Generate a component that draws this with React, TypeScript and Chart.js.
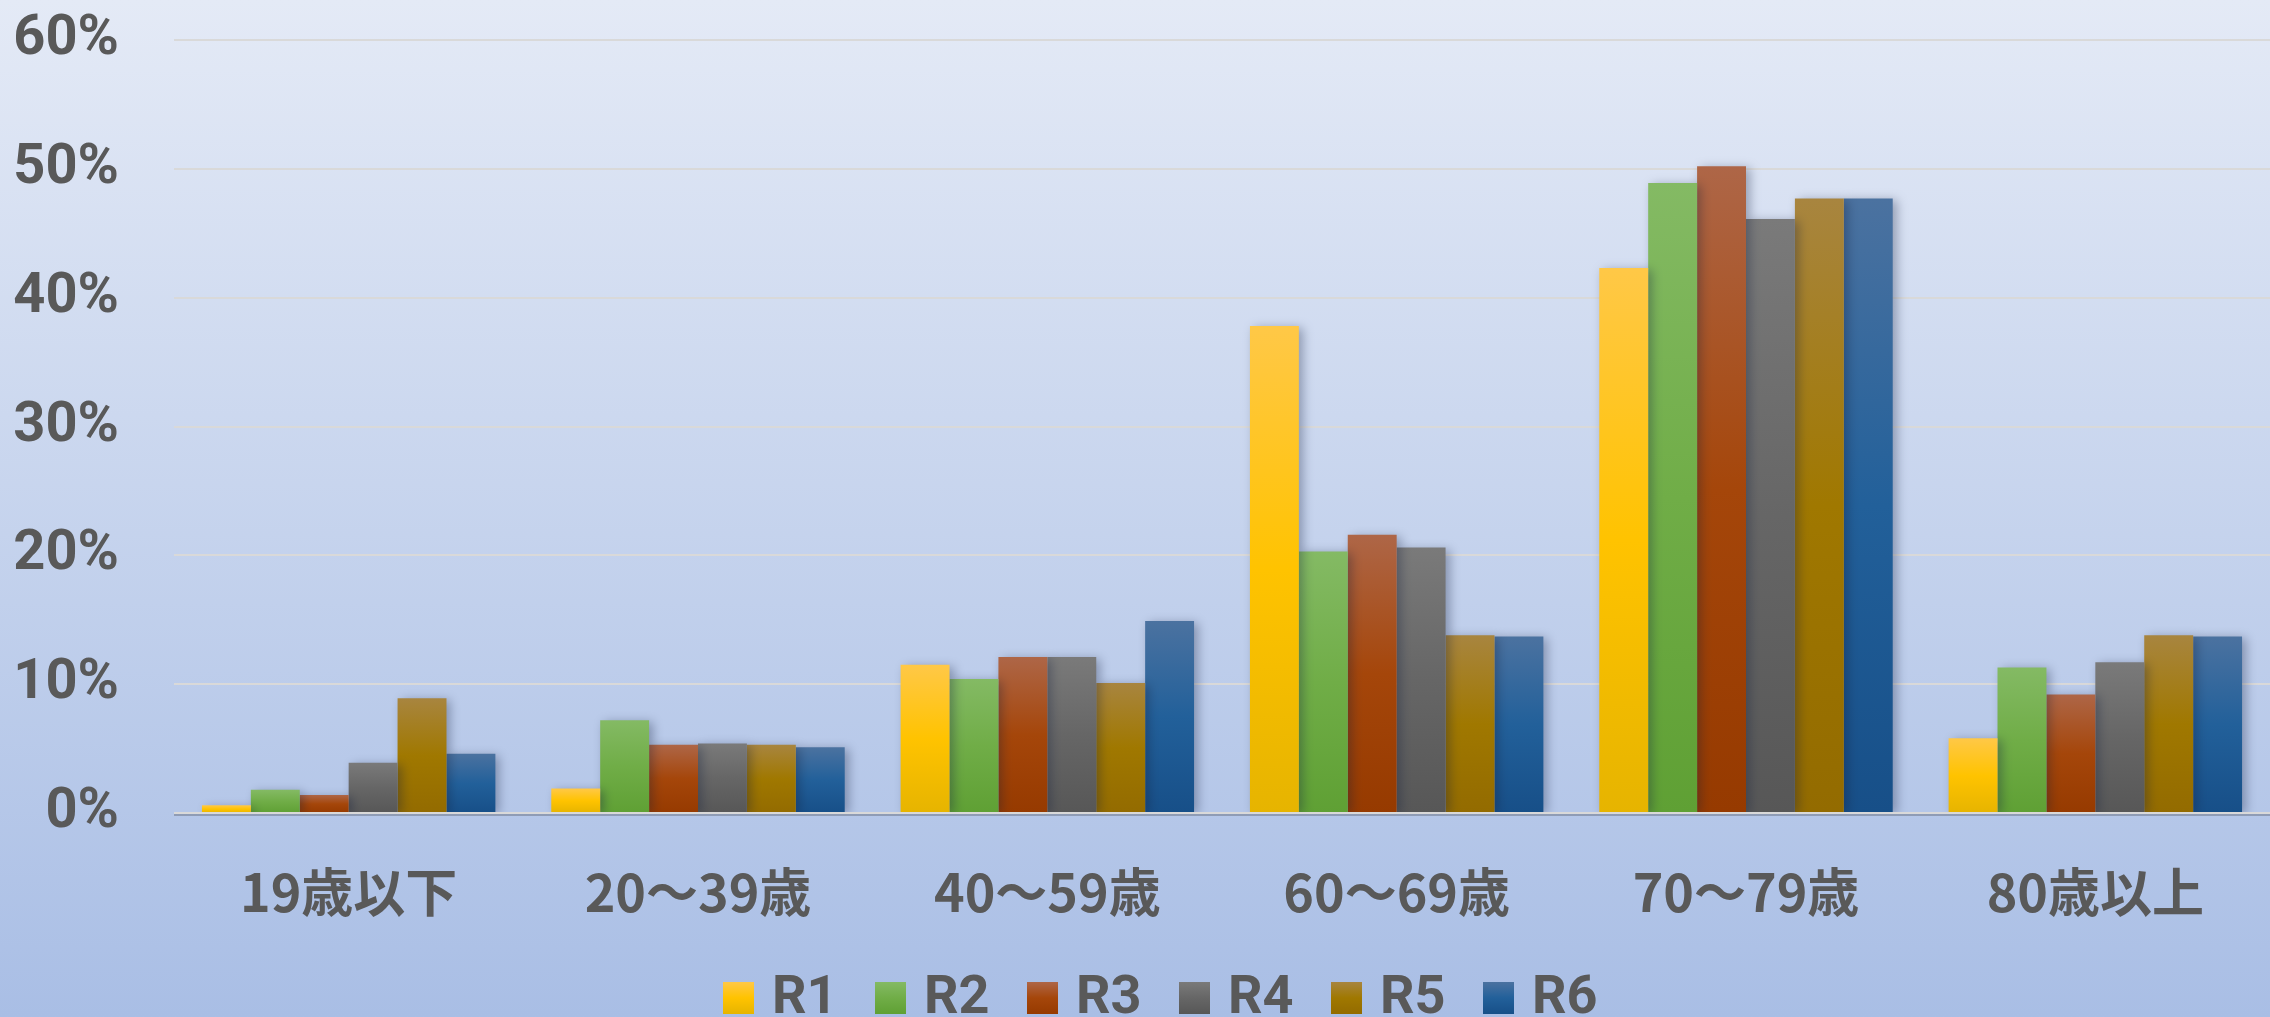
import React, { useEffect, useRef } from "react";
import { Chart, registerables } from "chart.js";

Chart.register(...registerables);

const categories = ["19歳以下", "20〜39歳", "40〜59歳", "60〜69歳", "70〜79歳", "80歳以上"];
const seriesNames = ["R1", "R2", "R3", "R4", "R5", "R6"];
const r1 = [0.6, 1.9, 11.5, 37.8, 42.3, 5.8];
const r2 = [1.8, 7.2, 10.4, 20.3, 48.9, 11.3];
const r3 = [1.4, 5.3, 12.1, 21.6, 50.2, 9.2];
const r4 = [3.9, 5.4, 12.1, 20.6, 46.1, 11.7];
const r5 = [8.9, 5.3, 10.1, 13.8, 47.7, 13.8];
const r6 = [4.6, 5.1, 14.9, 13.7, 47.7, 13.7];
const seriesValues = [r1, r2, r3, r4, r5, r6];
const yTicks = [0, 10, 20, 30, 40, 50, 60];

const gradientStops: string[][] = [
  ["#ffc847", "#ffc300", "#e6b400"],
  ["#84ba64", "#70ad47", "#5fa034"],
  ["#ae6647", "#a5460a", "#963a00"],
  ["#7a7a7a", "#666666", "#575757"],
  ["#a8853f", "#a07800", "#936b00"],
  ["#4b72a0", "#22609a", "#174f88"],
];

const textColor = "#595959";

function makeGrad(ctx: CanvasRenderingContext2D, top: number, bottom: number, stops: string[]) {
  const g = ctx.createLinearGradient(0, top, 0, bottom);
  g.addColorStop(0, stops[0]);
  g.addColorStop(0.5, stops[1]);
  g.addColorStop(1, stops[2]);
  return g;
}

const backgroundPlugin = {
  id: "bgGradient",
  beforeDraw(chart: any) {
    const { ctx, width, height } = chart;
    ctx.save();
    const g = ctx.createLinearGradient(0, 0, 0, height);
    g.addColorStop(0, "#e4eaf6");
    g.addColorStop(1, "#a9bee5");
    ctx.fillStyle = g;
    ctx.fillRect(0, 0, width, height);
    ctx.restore();
  },
};

const shadowPlugin = {
  id: "barShadow",
  beforeDatasetsDraw(chart: any) {
    const ctx = chart.ctx;
    ctx.save();
    ctx.shadowColor = "rgba(20,30,60,0.35)";
    ctx.shadowBlur = 10;
    ctx.shadowOffsetX = 4;
    ctx.shadowOffsetY = 2;
  },
  afterDatasetsDraw(chart: any) {
    const ctx = chart.ctx;
    ctx.restore();
    const y0 = chart.scales.y.getPixelForValue(0);
    const { left, right } = chart.chartArea;
    ctx.save();
    ctx.strokeStyle = "#d9d9d9";
    ctx.lineWidth = 2;
    ctx.beginPath();
    ctx.moveTo(left, y0);
    ctx.lineTo(right, y0);
    ctx.stroke();
    ctx.strokeStyle = "rgba(110,118,135,0.7)";
    ctx.lineWidth = 1.5;
    ctx.beginPath();
    ctx.moveTo(left, y0 + 2);
    ctx.lineTo(right, y0 + 2);
    ctx.stroke();
    ctx.restore();
  },
};

const legendPlugin = {
  id: "customLegend",
  afterDraw(chart: any) {
    const ctx = chart.ctx as CanvasRenderingContext2D;
    const startX = 723;
    const step = 152;
    const boxW = 31;
    const boxH = 32;
    const boxY = 982;
    ctx.save();
    ctx.font = "bold 54px Roboto";
    ctx.fillStyle = textColor;
    ctx.textBaseline = "alphabetic";
    ctx.textAlign = "left";
    chart.data.datasets.forEach((ds: any, i: number) => {
      const x = startX + i * step;
      ctx.fillStyle = makeGrad(ctx, boxY, boxY + boxH, gradientStops[i]);
      ctx.fillRect(x, boxY, boxW, boxH);
      ctx.fillStyle = textColor;
      ctx.fillText(ds.label, x + 49, 1013);
    });
    ctx.restore();
  },
};

export default function App() {
  const canvasRef = useRef<HTMLCanvasElement | null>(null);

  useEffect(() => {
    const canvas = canvasRef.current;
    if (!canvas) return;
    const datasets = seriesNames.map((name, i) => ({
      label: name,
      data: seriesValues[i],
      backgroundColor: (c: any) => {
        const chart = c.chart;
        const stops = gradientStops[i];
        if (!chart.chartArea || c.raw === undefined) return stops[1];
        const ys = chart.scales.y;
        const top = ys.getPixelForValue(c.raw);
        const bottom = ys.getPixelForValue(0);
        if (!isFinite(top) || !isFinite(bottom) || bottom - top < 1) return stops[1];
        return makeGrad(chart.ctx, top, bottom, stops);
      },
      borderWidth: 0,
      categoryPercentage: 0.84,
      barPercentage: 1.0,
    }));

    const chart = new Chart(canvas, {
      type: "bar",
      data: { labels: categories, datasets },
      options: {
        animation: false,
        responsive: false,
        devicePixelRatio: 1,
        layout: { padding: { left: 0, right: 0, top: 40, bottom: 0 } },
        plugins: {
          legend: { display: false },
          tooltip: { enabled: false },
        },
        scales: {
          x: {
            grid: { display: false, drawTicks: false },
            border: { display: false },
            ticks: {
              color: textColor,
              padding: 48,
              font: { family: "'Noto Sans CJK JP'", size: 52, weight: "bold" },
            },
            afterFit: (scale: any) => {
              scale.height = 204;
            },
          },
          y: {
            min: 0,
            max: 60,
            afterBuildTicks: (scale: any) => {
              scale.ticks = yTicks.map((v) => ({ value: v }));
            },
            grid: { color: "#d9d9d9", lineWidth: 2, drawTicks: false },
            border: { display: false },
            ticks: {
              color: textColor,
              padding: 55,
              font: { family: "Roboto", size: 56, weight: "bold" },
              callback: (v: any) => `${v}%`,
            },
            afterFit: (scale: any) => {
              scale.width = 174;
              scale.paddingTop = 20;
              scale.paddingBottom = 20;
            },
          },
        },
      },
      plugins: [backgroundPlugin, shadowPlugin, legendPlugin],
    });

    return () => {
      chart.destroy();
    };
  }, []);

  return (
    <div style={{ position: "fixed", left: 0, top: 0, width: 2270, height: 1017 }}>
      <canvas ref={canvasRef} width={2270} height={1017} style={{ display: "block", width: 2270, height: 1017 }} />
    </div>
  );
}
